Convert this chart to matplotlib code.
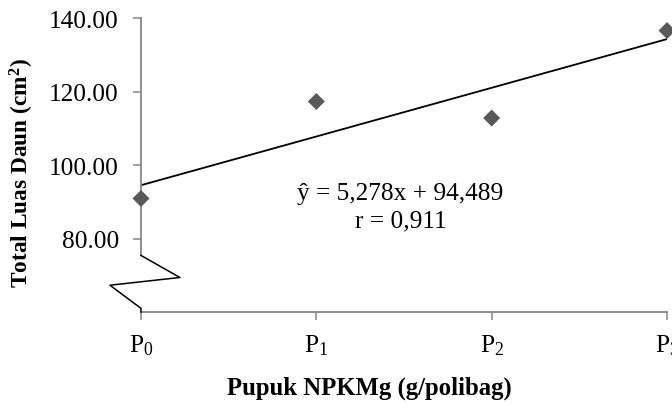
import numpy as np
import matplotlib
matplotlib.use("Agg")
import matplotlib.pyplot as plt

# --------------------------------------------
# Data
# --------------------------------------------
treatments = ["P$_0$", "P$_1$", "P$_2$", "P$_3$"]
leaf_area = [90.9, 117.3, 112.8, 136.6]
y_ticks = [80, 100, 120, 140]
equation_text = "ŷ = 5,278x + 94,489\nr = 0,911"

# --------------------------------------------
# Style
# --------------------------------------------
plt.rcParams["font.family"] = ["Liberation Serif", "DejaVu Serif"]
plt.rcParams["mathtext.fontset"] = "custom"
plt.rcParams["mathtext.rm"] = "Liberation Serif"
plt.rcParams["mathtext.it"] = "Liberation Serif:italic"
plt.rcParams["mathtext.bf"] = "Liberation Serif:bold"

axis_grey = "#868686"
marker_grey = "#595959"
tick_size = 18.3

fig = plt.figure(figsize=(6.72, 4.06), dpi=100)
ax = fig.add_axes([0.2098, 0.229, 0.7828, 0.724])

x = np.arange(len(treatments))

# trend line (least squares fit of the points)
slope, intercept = np.polyfit(x, leaf_area, 1)
ax.plot([x[0], x[-1]], [intercept + slope * x[0], intercept + slope * x[-1]],
        color="black", lw=1.3, zorder=2)

ax.scatter(x, leaf_area, marker="D", s=75, color=marker_grey,
           edgecolors="none", zorder=3, clip_on=False)

ax.set_xlim(0, 3)
ax.set_ylim(60, 140)
ax.set_xticks(x)
ax.set_xticklabels(treatments, fontsize=tick_size)
ax.set_yticks(y_ticks)
ax.set_yticklabels([f"{v:.2f}" for v in y_ticks], fontsize=tick_size)

for side in ["top", "right"]:
    ax.spines[side].set_visible(False)
for side in ["left", "bottom"]:
    ax.spines[side].set_color(axis_grey)
    ax.spines[side].set_linewidth(1.3)
ax.spines["left"].set_bounds(75.4, 140)
ax.tick_params(axis="both", colors=axis_grey, length=6, width=1.1,
               labelcolor="black")
ax.tick_params(axis="x", pad=9)
ax.tick_params(axis="y", pad=10)

# axis break zigzag
ax.plot([0, 0.222, -0.177, 0, 0], [75.4, 69.4, 67.3, 61.0, 60],
        color="black", lw=1.1, clip_on=False, zorder=4)

ax.text(1.48, 88.6, equation_text, ha="center", va="center",
        fontsize=tick_size, linespacing=1.3)

ax.set_ylabel("Total Luas Daun (cm$^\\mathbf{2}$)", fontsize=16.8,
              fontweight="bold")
ax.yaxis.set_label_coords(-0.2, 0.475)
ax.set_xlabel("Pupuk NPKMg (g/polibag)", fontsize=17.8, fontweight="bold")
ax.xaxis.set_label_coords(0.435, -0.215)

fig.savefig("out.png", dpi=100)
